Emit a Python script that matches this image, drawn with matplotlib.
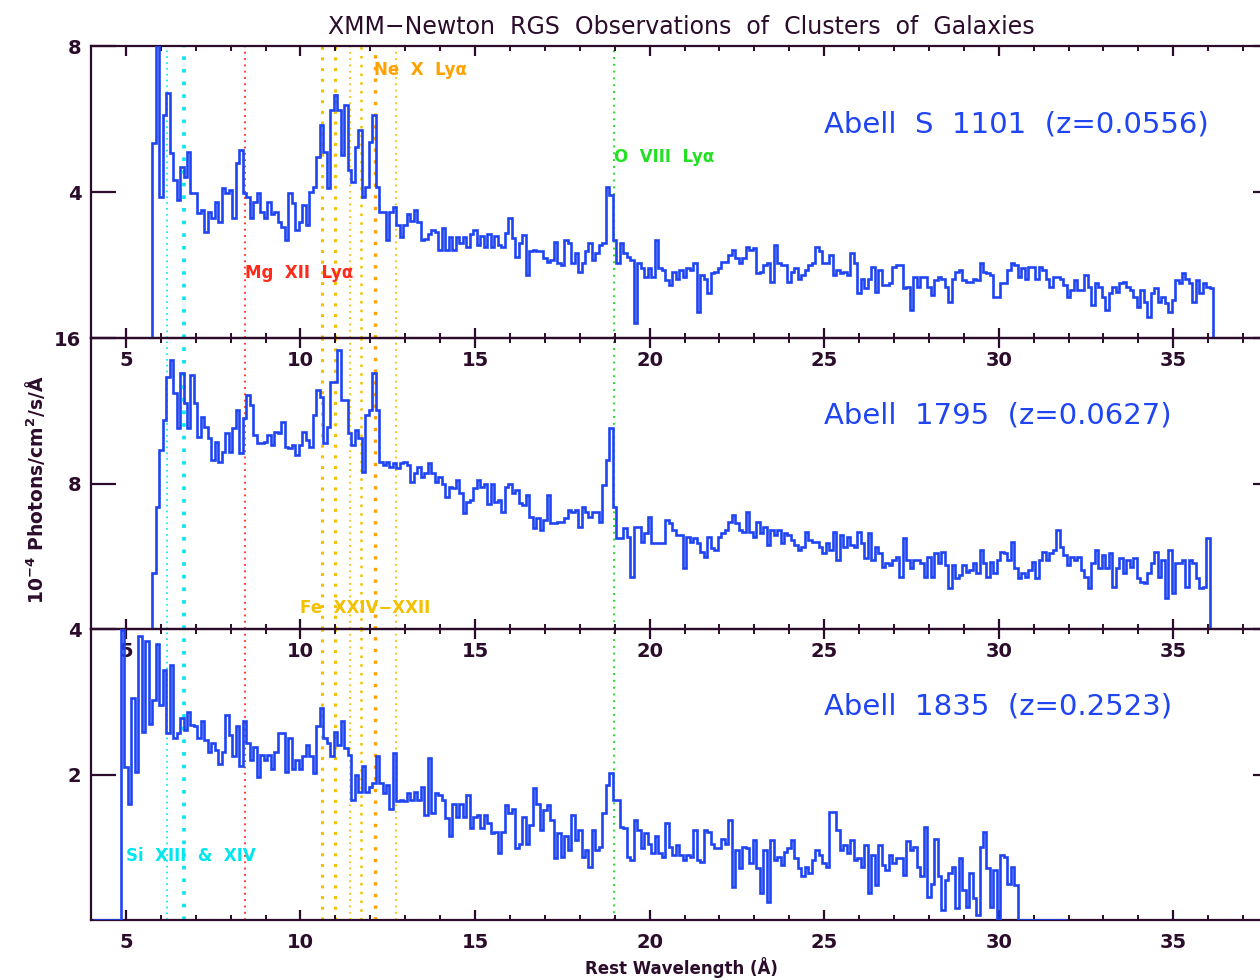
import numpy as np
import matplotlib.pyplot as plt
from matplotlib.ticker import MultipleLocator, FixedLocator

plt.rcParams['font.family'] = ['DejaVu Sans']

# rest-frame wavelength grid (Angstrom), 0.1 A bins
bin_width = 0.1
start_s1101 = 5.75
start_a1795 = 5.75
start_a1835 = 4.05

# flux, 1e-4 photons/cm2/s/A
flux_s1101 = [
    5.34, 8.5, 3.86, 6.1, 6.7, 5.07, 4.33, 3.78, 4.68, 4.4,
    5.1, 3.97, 3.97, 3.42, 3.5, 2.9, 3.45, 3.3, 3.73, 3.18,
    4.1, 3.97, 4.05, 3.3, 4.8, 5.15, 3.97, 3.85, 3.3, 3.73,
    3.97, 3.45, 3.3, 3.73, 3.4, 3.45, 3.18, 3.04, 2.68, 3.97,
    3.7, 2.96, 3.18, 3.64, 3.1, 4.0, 4.13, 4.96, 5.84, 5.1,
    4.1, 6.25, 6.66, 6.25, 5.0, 6.38, 4.6, 4.27, 5.23, 5.7,
    3.86, 4.13, 5.37, 6.1, 4.13, 3.45, 3.45, 2.68, 3.45, 3.6,
    3.1, 2.77, 3.1, 3.4, 3.2, 3.5, 3.18, 2.68, 2.7, 2.85,
    2.96, 2.9, 2.41, 3.0, 2.41, 2.77, 2.41, 2.77,
    2.6, 2.77, 2.5, 2.85, 2.96, 2.55, 2.8, 2.5, 2.85, 2.5, 2.8, 2.55,
    2.5, 2.87, 3.3, 2.73, 2.23, 2.6, 2.82, 1.73, 2.37, 2.41,
    2.37, 2.37, 2.18, 2.09, 2.14, 2.64, 2.05, 2.0, 2.68, 2.6,
    2.05, 2.32, 1.82, 2.05, 2.37, 2.6, 2.14, 2.32, 2.55, 2.6,
    4.15, 3.92, 2.68, 2.05, 2.6, 2.32, 2.23, 2.14, 0.4, 2.05,
    1.91, 1.68, 1.91, 1.68, 2.68, 1.91, 1.86, 1.59, 1.45, 1.82,
    1.63, 1.86, 1.68, 1.91, 1.86, 2.05, 0.72, 1.73, 1.63, 1.22,
    1.77, 1.82, 1.91, 2.09, 2.09, 2.27, 2.41, 2.18, 2.05, 2.18,
    2.5, 2.41, 2.46, 1.77, 1.82, 2.0, 2.05, 1.54, 2.55, 2.05,
    2.0, 2.0, 1.54, 1.82, 1.91, 1.63, 1.73, 1.86, 2.0, 2.05,
    2.5, 2.37, 2.05, 2.05, 2.27, 1.73, 1.86, 1.77, 1.82, 1.73,
    2.32, 2.05, 1.22, 1.63, 1.36, 1.63, 1.95, 1.27, 1.86, 1.45,
    1.45, 1.5, 1.95, 2.0,
    2.0, 1.36, 1.41, 0.77, 1.68, 1.41, 1.68, 1.68, 1.41, 1.18,
    1.59, 1.68, 1.63, 1.41, 1.0, 1.63, 1.82, 1.86, 1.59, 1.54,
    1.54, 1.63, 1.59, 2.05, 1.82, 1.77, 1.73, 1.13, 1.13, 1.5,
    1.5, 1.86, 2.05, 2.0, 1.68, 1.91, 1.63, 1.95, 1.95, 1.63,
    1.95, 1.86, 1.63, 1.41, 1.68, 1.68, 1.63, 1.45, 1.13, 1.32,
    1.59, 1.32, 1.32, 1.73, 1.41, 0.9, 1.5, 1.41, 1.13, 0.77,
    1.22, 1.41, 1.27, 1.5, 1.54, 1.41, 1.32, 1.13, 0.86, 1.32,
    1.0, 0.58, 1.22, 1.36, 1.0, 1.13, 0.95, 0.72, 1.04, 1.59,
    1.5, 1.77, 1.63, 1.5, 1.0, 1.59, 1.22, 1.5, 1.41, 1.36,
]

flux_a1795 = [
    3.06, 6.73, 9.84, 11.49, 13.87, 14.79, 12.96, 11.03, 14.06, 12.41,
    11.03, 13.96, 12.41, 10.57, 11.67, 11.12, 10.48, 9.29, 10.3, 9.2,
    9.75, 10.76, 9.75, 11.03, 12.04,
    9.66, 11.58, 12.86, 12.31, 10.67, 10.2,
    10.2, 10.3, 10.67, 10.1, 10.85, 10.76, 11.4, 10.0, 9.93, 10.1, 9.57,
    10.1, 10.85, 10.39,
    10.0, 11.76, 13.14, 12.77, 10.2, 11.12, 13.6, 13.6, 15.34, 12.59,
    12.59, 10.76, 10.1, 10.94, 10.5, 8.65, 11.76, 12.04, 14.06, 12.04, 9.2,
    9.0, 9.2, 8.92, 9.1, 8.83, 9.1, 9.2, 9.0, 8.1, 8.56,
    8.92, 8.37, 8.56, 9.1, 8.56, 8.1, 8.37, 8.0, 7.27, 7.82, 7.73,
    8.19, 7.46, 6.36, 7.0, 7.09, 7.73, 8.19, 7.82, 8.0, 6.9, 8.0, 7.0,
    7.09,
    6.45, 7.82, 8.0, 7.46, 7.64, 6.91, 6.82, 7.37, 6.18, 5.53,
    6.08, 5.44, 5.99, 7.37, 5.81, 5.81, 5.9, 5.9, 6.08, 6.54,
    6.45, 6.54, 5.63, 6.73, 6.45, 6.18, 6.45, 6.45, 5.9, 7.92,
    9.29, 11.03, 6.73, 4.98, 4.98, 5.53, 5.08, 2.88, 5.63, 5.63,
    4.8, 5.26, 6.18, 4.71, 4.71, 4.71, 4.71, 5.99, 5.81, 5.44,
    5.17, 5.17, 3.34, 5.08, 4.8, 4.98, 4.71, 4.25, 3.98, 5.08,
    4.43, 4.34, 5.08, 5.26, 5.44, 5.9, 6.27, 5.81, 5.44, 5.35,
    6.45, 5.35, 5.08, 5.9, 5.26, 5.63, 4.62, 5.44, 5.17, 5.44,
    4.71, 5.26, 5.17, 4.89, 4.62, 4.34, 4.53, 5.35, 4.89, 4.8,
    4.8, 4.53, 4.16, 4.71, 4.34, 5.35, 3.79, 5.17, 4.53, 5.08,
    4.62, 4.53, 5.35, 4.71, 3.88, 5.26, 3.79, 4.53, 4.16, 3.43,
    3.61, 3.52, 3.79, 3.98,
    2.88, 4.98, 3.79, 3.34, 3.79, 3.79, 3.61, 2.88, 3.98, 2.88,
    4.16, 3.61, 4.25, 3.52, 2.24, 3.52, 2.79, 2.97, 3.52, 3.15,
    3.24, 3.61, 3.06, 4.34, 3.61, 2.88, 3.7, 3.06, 3.79, 4.25,
    4.16, 3.79, 4.8, 3.34, 2.79, 3.06, 2.88, 3.24, 3.7, 2.79,
    3.79, 4.25, 3.79, 4.16, 4.34, 5.44, 4.53, 4.07, 3.52, 3.98,
    3.79, 3.98, 3.24, 2.88, 2.24, 3.61, 4.34, 3.34, 4.07, 3.34,
    4.16, 2.33, 3.34, 3.88, 3.06, 3.79, 3.43, 3.88, 2.79, 2.6,
    2.51, 3.06, 3.61, 4.25, 2.88, 3.79, 1.69, 4.34, 1.96, 3.61,
    3.61, 3.79, 2.33, 3.79, 3.61, 2.79, 2.24, 2.33, 4.98,
]

flux_a1835 = [
    0.0, 0.0, 0.0, 0.0, 0.0, 0.0, 0.0, 0.0,
    3.99, 2.1, 1.6, 3.05, 2.04, 3.9, 2.59, 3.83, 2.7, 3.02,
    3.8, 2.96, 3.44, 2.57, 3.5, 2.5,
    2.57, 2.77, 2.61, 2.86, 2.68, 2.66, 2.5, 2.73, 2.47, 2.31,
    2.43, 2.34, 2.15, 2.31, 2.82, 2.54, 2.25, 2.66, 2.11,
    2.73, 2.43, 2.2, 2.38, 1.97, 2.27, 2.2, 2.27, 2.08, 2.31,
    2.57, 2.57, 2.04, 2.5, 2.08, 2.2, 2.08, 2.25, 2.41, 2.25,
    2.02, 2.66, 2.91, 2.5, 2.43, 2.25, 2.59, 2.41, 2.73, 2.36,
    2.27, 1.65, 1.99, 1.76, 2.11, 1.76, 1.83, 1.88, 2.25, 1.88,
    1.74, 1.86, 1.53, 2.29, 1.63,
    1.65, 1.63, 1.74, 1.65, 1.76, 1.65, 1.83, 1.44, 2.22, 1.47,
    1.74, 1.72, 1.65, 1.4, 1.15, 1.6, 1.42, 1.6, 1.42,
    1.72, 1.26, 1.42, 1.44, 1.26, 1.44, 1.33, 1.19, 1.21, 0.92,
    1.21, 1.58, 1.47, 1.53, 0.99, 1.05, 1.42, 1.05, 1.31, 1.81,
    1.6, 1.24, 1.51, 1.58, 1.37, 0.85, 1.19, 0.87, 1.15, 0.96,
    1.44, 1.1, 1.24, 0.87, 0.96, 0.73, 1.24, 0.96, 1.01, 1.47,
    1.86, 2.02, 1.65, 1.65, 1.28, 1.26, 0.87, 0.82, 1.37, 1.24,
    0.99, 1.19, 1.05, 0.92, 1.15, 0.92, 0.87, 1.33, 1.01, 0.89,
    1.03, 0.89, 0.82, 0.89, 0.87, 1.24, 0.82, 0.8, 1.24, 1.21,
    1.05, 0.99, 0.99, 1.12, 1.05, 1.37, 0.46, 0.96, 0.71, 1.01,
    0.99, 0.78, 1.1, 0.71, 0.37, 0.96, 0.25, 1.1, 0.82, 0.87,
    0.76, 0.94, 0.99, 1.1, 0.85, 0.71, 0.6, 0.73, 0.64, 0.82,
    0.96, 0.89, 0.78, 0.73, 1.49, 1.49, 1.24, 0.96, 1.03, 0.92,
    1.1, 0.82, 0.85, 0.73, 1.03, 0.37, 0.89, 0.48, 1.03, 0.76,
    0.69, 0.89, 0.78, 0.85,
    0.85, 0.62, 1.08, 0.96, 1.01, 0.73, 0.6, 1.28, 0.32, 0.5,
    1.12, 0.6, 0.14, 0.55, 0.64, 0.73, 0.16, 0.85, 0.41, 0.18,
    0.64, 0.3, 0.07, 1.01, 1.21, 0.71, 0.18, 0.69, 0.0, 0.89,
    0.87, 0.5, 0.73, 0.48,
    0.0, 0.0, 0.0, 0.0, 0.0, 0.0, 0.0, 0.0, 0.0, 0.0, 0.0, 0.0, 0.0, 0.0,
]

clusters = ["Abell  S  1101  (z=0.0556)", "Abell  1795  (z=0.0627)", "Abell  1835  (z=0.2523)"]
ymax = [8, 16, 4]
yticks = [[4, 8], [8, 16], [2, 4]]
cluster_label_y = [5.84, 11.76, 2.93]

# emission lines (rest wavelength, A)
si_lines = [6.18, 6.65]
si_widths = [1.2, 2.6]
mg_lines = [8.42]
fe_lines = [10.62, 10.98, 11.42, 11.74, 12.75]
fe_widths = [2.2, 2.2, 1.3, 1.8, 1.3]
ne_lines = [12.13]
o_lines = [18.97]

blue = '#1f45f2'
dark = '#2b0c2b'
cyan = '#00e6ef'
red = '#ff2a1a'
gold = '#f4c000'
orange = '#ffa200'
green = '#22e022'

fig = plt.figure(figsize=(12.6, 9.8), dpi=100)
fig.patch.set_facecolor('white')

left = 91 / 1260
width = (1278 - 91) / 1260
tops = [46, 338, 629]
heights = [292, 291, 291]

data = [(flux_s1101, start_s1101), (flux_a1795, start_a1795), (flux_a1835, start_a1835)]
axes = []
for k in range(3):
    bottom = 1 - (tops[k] + heights[k]) / 980
    ax = fig.add_axes([left, bottom, width, heights[k] / 980])
    ax.set_facecolor('none')
    flux, start = data[k]
    edges = start + bin_width * np.arange(len(flux) + 1)
    ax.stairs(flux, edges, baseline=0, color=blue, lw=1.9, zorder=3)

    def vl(xs, col, lws, dash=(1, 2.5)):
        for x, w in zip(xs, lws):
            ax.axvline(x, color=col, lw=w, ls=(0, dash), zorder=1)

    vl(si_lines, cyan, si_widths)
    vl(mg_lines, red, [1.3])
    vl(fe_lines, gold, fe_widths)
    vl(ne_lines, orange, [2.4])
    vl(o_lines, green, [1.4])

    ax.set_xlim(4, 38)
    ax.set_ylim(0, ymax[k])
    ax.xaxis.set_major_locator(MultipleLocator(5))
    ax.xaxis.set_minor_locator(MultipleLocator(1))
    ax.yaxis.set_major_locator(FixedLocator(yticks[k]))
    ax.yaxis.set_minor_locator(FixedLocator([]))
    ax.tick_params(axis='x', which='major', direction='in', top=True, bottom=True,
                   length=7, width=1.6, color=dark, pad=9, labelsize=14,
                   labelcolor=dark)
    ax.tick_params(axis='x', which='minor', direction='in', top=True, bottom=True,
                   length=3.5, width=1.4, color=dark)
    ax.tick_params(axis='y', which='major', direction='in', left=True, right=True,
                   length=18, width=1.6, color=dark, pad=7, labelsize=14,
                   labelcolor=dark)
    for lab in ax.get_xticklabels() + ax.get_yticklabels():
        lab.set_fontweight('bold')
    for sp in ax.spines.values():
        sp.set_color(dark)
        sp.set_linewidth(1.6)

    ax.text(25.0, cluster_label_y[k], clusters[k], color=blue, fontsize=21,
            ha='left', va='center')
    axes.append(ax)

axes[0].text(12.1, 7.34, 'Ne  X  Ly\u03b1', color=orange, fontsize=12,
             fontweight='bold', va='center')
axes[0].text(8.42, 1.78, 'Mg  XII  Ly\u03b1', color=red, fontsize=12,
             fontweight='bold', va='center')
axes[0].text(18.97, 4.96, 'O  VIII  Ly\u03b1', color=green, fontsize=12,
             fontweight='bold', va='center')
axes[1].text(10.0, 1.15, 'Fe  XXIV\u2212XXII', color=gold, fontsize=12,
             fontweight='bold', va='center')
axes[2].text(5.0, 0.88, 'Si  XIII  &  XIV', color=cyan, fontsize=12,
             fontweight='bold', va='center')

fig.text(0.541, 1 - 27 / 980,
         'XMM\u2212Newton  RGS  Observations  of  Clusters  of  Galaxies',
         ha='center', va='center', fontsize=17, color=dark)
fig.text(0.541, 1 - 968 / 980, 'Rest Wavelength (\u00c5)', ha='center', va='center',
         fontsize=12, fontweight='bold', color=dark)
fig.text(35 / 1260, 1 - 490 / 980,
         '10$^{\\mathbf{-4}}$ Photons/cm$^{\\mathbf{2}}$/s/\u00c5',
         rotation=90, ha='center', va='center', fontsize=13.5, fontweight='bold',
         color=dark)

fig.savefig('out.png', dpi=100)
